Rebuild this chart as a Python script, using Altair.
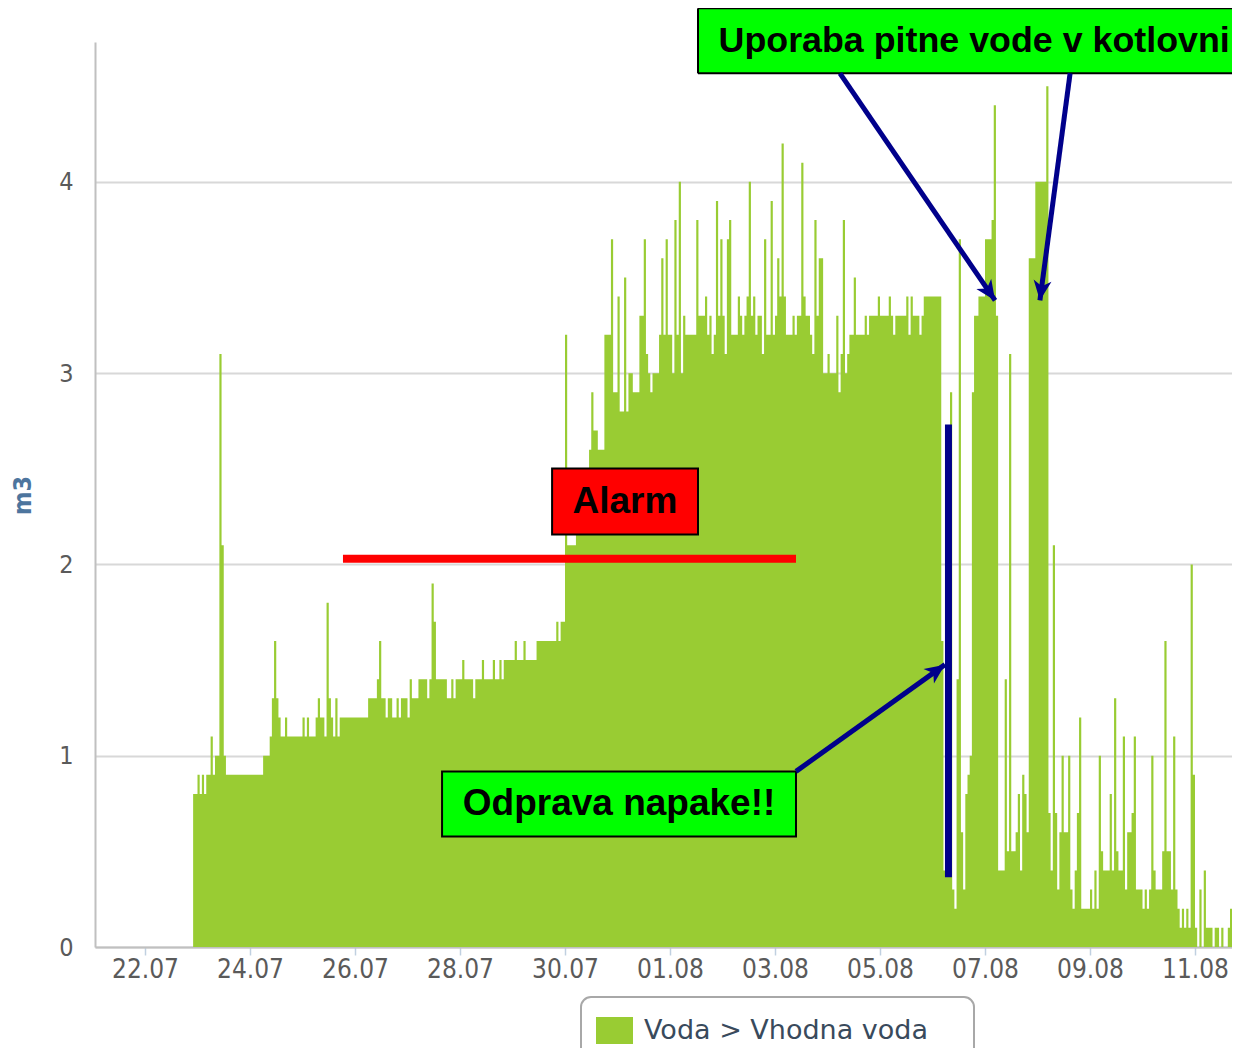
import math
import altair as alt
import pandas as pd

# ---------------- data (hourly consumption, m3) ----------------
SERIES = "Voda > Vhodna voda"
FIRST_READING = "2013-07-22 22:00"

d22_07 = [0.8, 0.8]
d23_07 = [0.9, 0.8, 0.9, 0.8, 0.9, 0.9, 1.1, 0.9, 1.0, 1.0, 3.1, 2.1, 1.0, 0.9, 0.9, 0.9, 0.9, 0.9, 0.9, 0.9, 0.9, 0.9, 0.9, 0.9]
d24_07 = [0.9, 0.9, 0.9, 0.9, 0.9, 0.9, 1.0, 1.0, 1.0, 1.1, 1.3, 1.6, 1.3, 1.2, 1.1, 1.1, 1.2, 1.1, 1.1, 1.1, 1.1, 1.1, 1.1, 1.1]
d25_07 = [1.2, 1.1, 1.2, 1.1, 1.1, 1.1, 1.2, 1.3, 1.2, 1.2, 1.1, 1.8, 1.3, 1.2, 1.1, 1.3, 1.1, 1.2, 1.2, 1.2, 1.2, 1.2, 1.2, 1.2]
d26_07 = [1.2, 1.2, 1.2, 1.2, 1.2, 1.2, 1.3, 1.3, 1.3, 1.3, 1.4, 1.6, 1.3, 1.3, 1.2, 1.3, 1.3, 1.2, 1.2, 1.3, 1.2, 1.3, 1.3, 1.3]
d27_07 = [1.2, 1.4, 1.3, 1.3, 1.3, 1.4, 1.4, 1.4, 1.4, 1.3, 1.4, 1.9, 1.7, 1.4, 1.4, 1.4, 1.4, 1.4, 1.3, 1.3, 1.4, 1.3, 1.4, 1.4]
d28_07 = [1.4, 1.5, 1.4, 1.4, 1.4, 1.4, 1.3, 1.4, 1.4, 1.4, 1.5, 1.4, 1.4, 1.4, 1.4, 1.5, 1.4, 1.4, 1.5, 1.4, 1.5, 1.5, 1.5, 1.5]
d29_07 = [1.5, 1.6, 1.5, 1.5, 1.5, 1.6, 1.5, 1.5, 1.5, 1.5, 1.5, 1.6, 1.6, 1.6, 1.6, 1.6, 1.6, 1.6, 1.6, 1.6, 1.7, 1.6, 1.7, 1.7]
d30_07 = [3.2, 2.1, 2.1, 2.1, 2.1, 2.2, 2.2, 2.3, 2.4, 2.4, 2.5, 2.6, 2.9, 2.7, 2.7, 2.6, 2.6, 2.6, 3.2, 3.2, 3.2, 3.7, 2.9, 2.9]
d31_07 = [3.4, 2.8, 2.8, 3.5, 2.8, 3.0, 3.0, 2.9, 2.9, 2.9, 3.3, 3.3, 3.7, 3.1, 3.0, 2.9, 3.0, 3.0, 3.0, 3.2, 3.6, 3.2, 3.7, 3.2]
d01_08 = [3.2, 3.0, 3.8, 3.2, 4.0, 3.0, 3.3, 3.2, 3.2, 3.2, 3.2, 3.2, 3.8, 3.3, 3.3, 3.3, 3.4, 3.2, 3.3, 3.1, 3.2, 3.9, 3.3, 3.7]
d02_08 = [3.3, 3.1, 3.7, 3.8, 3.2, 3.2, 3.2, 3.4, 3.3, 3.2, 3.3, 3.4, 4.0, 3.3, 3.4, 3.2, 3.3, 3.3, 3.1, 3.7, 3.2, 3.2, 3.9, 3.2]
d03_08 = [3.3, 3.6, 3.4, 4.2, 3.4, 3.2, 3.2, 3.2, 3.3, 3.2, 3.3, 3.3, 4.1, 3.4, 3.3, 3.3, 3.2, 3.1, 3.8, 3.3, 3.6, 3.6, 3.0, 3.0]
d04_08 = [3.1, 3.0, 3.0, 3.0, 3.3, 2.9, 3.1, 3.8, 3.0, 3.1, 3.2, 3.2, 3.5, 3.2, 3.2, 3.2, 3.2, 3.3, 3.2, 3.3, 3.3, 3.3, 3.3, 3.4]
d05_08 = [3.3, 3.3, 3.3, 3.3, 3.4, 3.3, 3.2, 3.3, 3.3, 3.3, 3.3, 3.3, 3.4, 3.2, 3.4, 3.3, 3.3, 3.3, 3.2, 3.3, 3.4, 3.4, 3.4, 3.4]
d06_08 = [3.4, 3.4, 3.4, 3.4, 1.6, 0.4, 0.4, 0.4, 2.9, 0.3, 0.2, 1.4, 3.7, 0.6, 0.3, 0.8, 0.9, 1.0, 2.9, 3.3, 3.3, 3.4, 3.4, 3.4]
d07_08 = [3.7, 3.7, 3.7, 3.8, 4.4, 3.3, 0.4, 0.4, 0.4, 1.4, 0.5, 3.1, 0.5, 0.5, 0.6, 0.8, 0.4, 0.9, 0.8, 0.6, 3.6, 3.6, 3.6, 4.0]
d08_08 = [4.0, 4.0, 4.0, 4.0, 4.5, 0.7, 0.4, 2.1, 0.7, 0.3, 0.6, 1.0, 0.6, 0.6, 1.0, 0.3, 0.2, 0.4, 0.7, 1.2, 0.2, 0.2, 0.2, 0.2]
d09_08 = [0.3, 0.2, 0.4, 0.2, 1.0, 0.5, 0.4, 0.4, 0.4, 0.8, 0.4, 1.3, 0.5, 0.4, 0.4, 1.1, 0.3, 0.6, 0.6, 0.7, 1.1, 0.3, 0.3, 0.3]
d10_08 = [0.2, 0.3, 0.2, 0.3, 1.0, 0.4, 0.3, 0.3, 0.3, 0.5, 1.6, 0.5, 0.5, 0.3, 1.1, 0.3, 0.2, 0.1, 0.2, 0.1, 0.2, 0.1, 2.0, 0.9]
d11_08 = [0.1, 0.0, 0.3, 0.0, 0.4, 0.1, 0.1, 0.1, 0.0, 0.1, 0.1, 0.0, 0.1, 0.0, 0.0, 0.1, 0.2, 2.3, 0.2, 0.1, 0.0]

daily = [d22_07, d23_07, d24_07, d25_07, d26_07, d27_07, d28_07, d29_07, d30_07, d31_07,
         d01_08, d02_08, d03_08, d04_08, d05_08, d06_08, d07_08, d08_08, d09_08, d10_08, d11_08]
hourly_m3 = [v for day in daily for v in day]

tick_days = ["2013-07-22", "2013-07-24", "2013-07-26", "2013-07-28", "2013-07-30", "2013-08-01",
             "2013-08-03", "2013-08-05", "2013-08-07", "2013-08-09", "2013-08-11"]
y_ticks = [0, 1, 2, 3, 4]

# annotations (hours after 22.07 00:00, values in m3)
TXT_ALARM = "Alarm"
TXT_FIX = "Odprava napake!!"
TXT_TOP = "Uporaba pitne vode v kotlovni"

# ---------------- layout / style ----------------
BASE = pd.Timestamp("2013-07-22 00:00", tz="UTC")
PX_PER_HOUR = 2.1875
W, H = 1137, 905
DOM_H = (-22.857, -22.857 + W / PX_PER_HOUR)
Y_MAX = 4.731
GREEN = "#99cc33"
NAVY = "#00008b"
FONT = "DejaVu Sans Condensed, DejaVu Sans, sans-serif"
LEGEND_FONT = "DejaVu Sans, sans-serif"
BOLD = "Liberation Sans, Arial, sans-serif"


def iso(h):
    return (BASE + pd.Timedelta(hours=h)).strftime("%Y-%m-%dT%H:%M:%SZ")


def ms(h):
    return int((BASE + pd.Timedelta(hours=h)).value // 10**6)


times = pd.date_range(pd.Timestamp(FIRST_READING, tz="UTC"), periods=len(hourly_m3) + 1, freq="h")
df = pd.DataFrame({
    "t": times.strftime("%Y-%m-%dT%H:%M:%SZ"),
    "v": hourly_m3 + [hourly_m3[-1]],
    "series": SERIES,
})

xscale = alt.Scale(type="utc", domain=[ms(DOM_H[0]), ms(DOM_H[1])], nice=False)
yscale = alt.Scale(domain=[0, Y_MAX], nice=False, zero=True)

tick_vals = []
for d in tick_days:
    ts = pd.Timestamp(d)
    tick_vals.append(alt.DateTime(year=ts.year, month=ts.month, date=ts.day, utc=True))

xaxis = alt.Axis(values=tick_vals, labelExpr="utcFormat(datum.value, '%d.%m')", title=None, grid=False,
                 labelFont=FONT, labelFontSize=26, labelColor="#5a5a5a", labelPadding=1,
                 tickColor="#c0d0e0", tickSize=8, tickWidth=1.5,
                 domainColor="#c0c0c0", domainWidth=2, labelFlush=False)
yaxis = alt.Axis(values=y_ticks, title="m3", grid=True, gridColor="#d8d8d8", gridWidth=2,
                 ticks=False, domainColor="#c0c0c0", domainWidth=2,
                 labelFont=FONT, labelFontSize=25, labelColor="#5a5a5a", labelPadding=22,
                 titleFont=FONT, titleFontSize=25, titleFontWeight="bold", titleColor="#4d759e",
                 titleAngle=270, titleX=-73, titleY=453, titleAlign="center", titleBaseline="middle")


def X(field):
    return alt.X(field, scale=xscale, axis=xaxis)


def Y(field):
    return alt.Y(field, scale=yscale, axis=yaxis)


area = alt.Chart(df).mark_area(interpolate="step-after", clip=True).encode(
    x=X("t:T"),
    y=Y("v:Q"),
    color=alt.Color("series:N", scale=alt.Scale(domain=[SERIES], range=[GREEN]),
                    legend=alt.Legend(orient="none", legendX=486, legendY=955,
                                      title="\u00a0", titleOrient="right", titleFontSize=8,
                                      titlePadding=31,
                                      symbolType="M-1,-0.73H1V0.73H-1Z", symbolSize=1369,
                                      symbolStrokeWidth=0, symbolOpacity=1,
                                      labelFont=LEGEND_FONT, labelFontSize=27, labelColor="#394a5c",
                                      labelLimit=600, labelOffset=11, padding=15,
                                      strokeColor="#a8a8a8", cornerRadius=10, fillColor="white")),
)

# red alarm threshold line
alarm_line = pd.DataFrame({"t": [iso(90.5)], "t2": [iso(297.6)], "v": [2.03]})
red_rule = alt.Chart(alarm_line).mark_rule(color="#ff0000", strokeWidth=8, strokeCap="butt").encode(
    x=X("t:T"), x2="t2:T", y=Y("v:Q"))

# label boxes with full border
boxes = pd.DataFrame({
    "t": [iso(186.1), iso(135.8)],
    "t2": [iso(252.8), iso(297.6)],
    "v": [2.502, 0.918],
    "v2": [2.157, 0.578],
    "fill": ["#ff0000", "#00ff00"],
})
box_marks = alt.Chart(boxes).mark_rect(stroke="black", strokeWidth=2).encode(
    x=X("t:T"), x2="t2:T", y=Y("v:Q"), y2="v2:Q",
    fill=alt.Fill("fill:N", scale=None))

# top box runs off the right edge of the picture
top_box = pd.DataFrame({"t": [iso(252.8)], "t2": [iso(600.0)], "v": [4.907], "v2": [4.567]})
top_rect = alt.Chart(top_box).mark_rect(fill="#00ff00").encode(
    x=X("t:T"), x2="t2:T", y=Y("v:Q"), y2="v2:Q")
top_edges = pd.DataFrame({
    "t": [iso(252.8), iso(252.8), iso(252.8)],
    "t2": [iso(600.0), iso(600.0), iso(252.8)],
    "v": [4.907, 4.567, 4.907],
    "v2": [4.907, 4.567, 4.567],
})
top_border = alt.Chart(top_edges).mark_rule(color="black", strokeWidth=2).encode(
    x=X("t:T"), x2="t2:T", y=Y("v:Q"), y2="v2:Q")

labels_c = pd.DataFrame({"t": [iso(219.4), iso(216.7)], "v": [2.325, 0.745], "txt": [TXT_ALARM, TXT_FIX]})
text_c = alt.Chart(labels_c).mark_text(font=BOLD, fontSize=37, fontWeight="bold", color="black",
                                       align="center", baseline="middle").encode(
    x=X("t:T"), y=Y("v:Q"), text="txt:N")

labels_l = pd.DataFrame({"t": [iso(262.2)], "v": [4.737], "txt": [TXT_TOP]})
text_l = alt.Chart(labels_l).mark_text(font=BOLD, fontSize=35.8, fontWeight="bold", color="black",
                                       align="left", baseline="middle").encode(
    x=X("t:T"), y=Y("v:Q"), text="txt:N")

# blue vertical marker of the repair
marker = pd.DataFrame({"t": [iso(367.3)], "v": [2.731], "v2": [0.364]})
blue_rule = alt.Chart(marker).mark_rule(color=NAVY, strokeWidth=7, strokeCap="butt").encode(
    x=X("t:T"), y=Y("v:Q"), y2="v2:Q")

# arrows: start (h, v) -> tip (h, v)
arrow_from_h = [317.7, 422.9, 297.6]
arrow_from_v = [4.567, 4.567, 0.918]
arrow_to_h = [388.6, 409.1, 365.7]
arrow_to_v = [3.38, 3.38, 1.476]
px_v = H / Y_MAX
angles = []
for h0, v0, h1, v1 in zip(arrow_from_h, arrow_from_v, arrow_to_h, arrow_to_v):
    dx = (h1 - h0) * PX_PER_HOUR
    dy_up = (v1 - v0) * px_v
    angles.append(math.degrees(math.atan2(dx, dy_up)) % 360)
arrows = pd.DataFrame({
    "t": [iso(h) for h in arrow_from_h], "v": arrow_from_v,
    "t2": [iso(h) for h in arrow_to_h], "v2": arrow_to_v,
    "ang": angles,
})
arrow_lines = alt.Chart(arrows).mark_rule(color=NAVY, strokeWidth=5).encode(
    x=X("t:T"), y=Y("v:Q"), x2="t2:T", y2="v2:Q")
arrow_heads = alt.Chart(arrows).mark_point(
    shape="M0,0L0.45,1L0,0.72L-0.45,1Z", filled=True, color=NAVY, opacity=1, size=1600, strokeWidth=0
).encode(
    x=X("t2:T"), y=Y("v2:Q"), angle=alt.Angle("ang:Q", scale=None))

chart = alt.layer(area, red_rule, box_marks, top_rect, top_border, text_c, text_l,
                  blue_rule, arrow_lines, arrow_heads).properties(
    width=W, height=H,
    autosize=alt.AutoSizeParams(type="none"),
    padding={"left": 87, "top": 34, "right": 0, "bottom": 101},
    background="white",
).configure_view(stroke=None).configure_legend(strokeWidth=2)

chart.save("out.html", embed_options={"renderer": "svg", "actions": False})
